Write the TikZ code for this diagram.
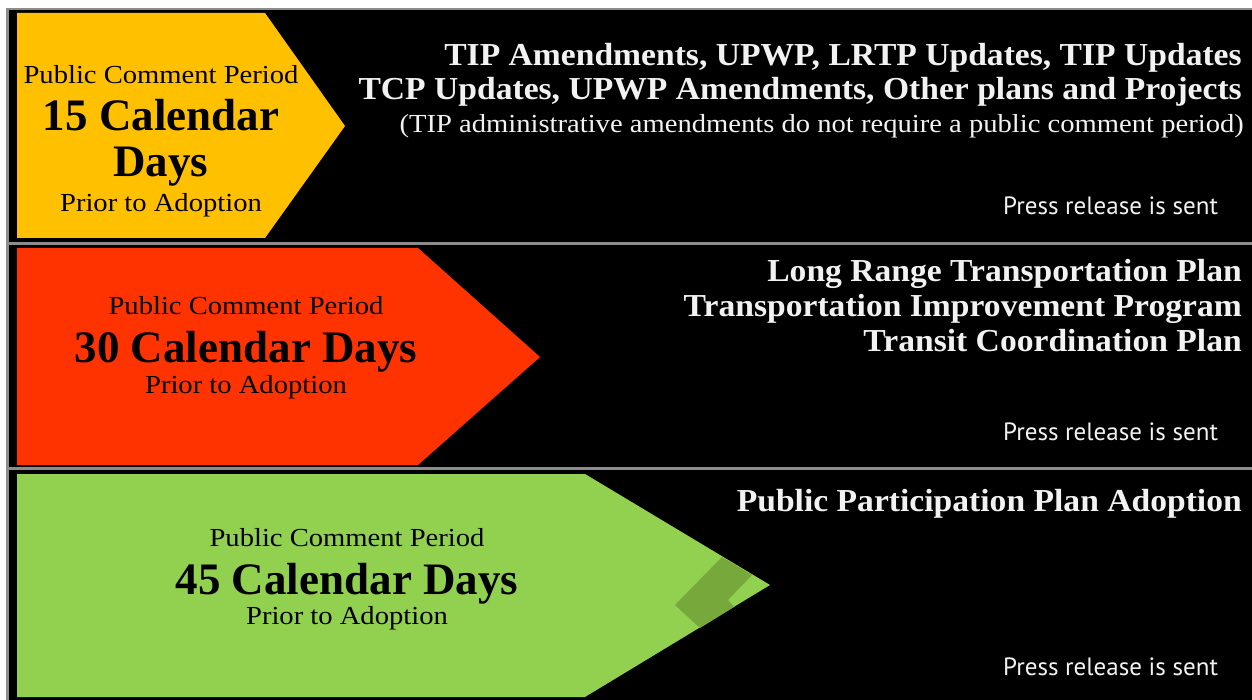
\documentclass[tikz,border=0pt]{standalone}
\usepackage{fontspec}
\setmainfont{Liberation Serif}
\newfontfamily\regf[FakeStretch=1.1]{Liberation Serif}
\newfontfamily\boldwide[FakeStretch=1.05]{Liberation Serif}
\newfontfamily\sansf{PT Sans}
\definecolor{yel}{HTML}{FFC000}
\definecolor{redc}{HTML}{FF3300}
\definecolor{grn}{HTML}{92D050}
\definecolor{dgrn}{HTML}{76A83C}
\definecolor{sep}{HTML}{8C8C8C}
\definecolor{wtxt}{HTML}{F2F2F2}
\tikzset{
  rtxt/.style={anchor=base east, inner sep=0pt, text=wtxt, font=\boldwide\fontsize{32}{32}\selectfont\bfseries},
  note/.style={anchor=base east, inner sep=0pt, text=wtxt, font=\regf\fontsize{26}{26}\selectfont},
  press/.style={anchor=base west, inner sep=0pt, text=wtxt, font=\sansf\fontsize{25}{25}\selectfont},
  lsmall/.style={anchor=base, inner sep=0pt, text=black, font=\regf\fontsize{26}{26}\selectfont},
  lbig/.style={anchor=base, inner sep=0pt, text=black, font=\fontsize{45}{45}\selectfont\bfseries},
  sepline/.style={draw=sep, line width=3.5pt}
}
\begin{document}
\begin{tikzpicture}[x=1pt,y=-1pt]
\useasboundingbox (0,0) rectangle (1252,700);
\fill[white] (0,0) rectangle (1252,700);
\fill[black] (7,8) rectangle (1252,700);
\draw[sep, line width=2.5pt] (7.5,700) -- (7.5,9) -- (1252,9);
% arrows
\fill[yel] (17,13) -- (265,13) -- (345,126) -- (265,238) -- (17,238) -- cycle;
\fill[redc] (17,248) -- (418,248) -- (540,357) -- (418,465) -- (17,465) -- cycle;
\fill[grn] (17,474) -- (585,474) -- (770,585) -- (585,697) -- (17,697) -- cycle;
\fill[dgrn] (675,605) -- (722,557) -- (752,575) -- (728,600) -- (734,607) -- (700,628) -- cycle;
% separators
\draw[sepline] (7,243.5) -- (1252,243.5);
\draw[sepline] (7,468.5) -- (1252,468.5);
% row 1
\node[lsmall] (p1) at (161,84) {Public Comment Period};
\node[lbig] (d1a) at (161,131) {15 Calendar};
\node[lbig] (d1b) at (161,177) {Days};
\node[lsmall] (a1) at (161,212) {Prior to Adoption};
\node[rtxt] (r1a) at (1242,66) {TIP Amendments, UPWP, LRTP Updates, TIP Updates};
\node[rtxt] (r1b) at (1242,100) {TCP Updates, UPWP Amendments, Other plans and Projects};
\node[note] (r1c) at (1244,133) {(TIP administrative amendments do not require a public comment period)};
\node[press] (s1) at (1003,215) {Press release is sent};
% row 2
\node[lsmall] (p2) at (246,315) {Public Comment Period};
\node[lbig] (d2) at (246,362) {30 Calendar Days};
\node[lsmall] (a2) at (246,393) {Prior to Adoption};
\node[rtxt] (r2a) at (1242,282) {Long Range Transportation Plan};
\node[rtxt] (r2b) at (1242,317) {Transportation Improvement Program};
\node[rtxt] (r2c) at (1242,352) {Transit Coordination Plan};
\node[press] (s2) at (1003,440) {Press release is sent};
% row 3
\node[lsmall] (p3) at (347,546) {Public Comment Period};
\node[lbig] (d3) at (347,594) {45 Calendar Days};
\node[lsmall] (a3) at (347,624) {Prior to Adoption};
\node[rtxt] (r3a) at (1242,511) {Public Participation Plan Adoption};
\node[press] (s3) at (1003,675) {Press release is sent};
\end{tikzpicture}
\end{document}
